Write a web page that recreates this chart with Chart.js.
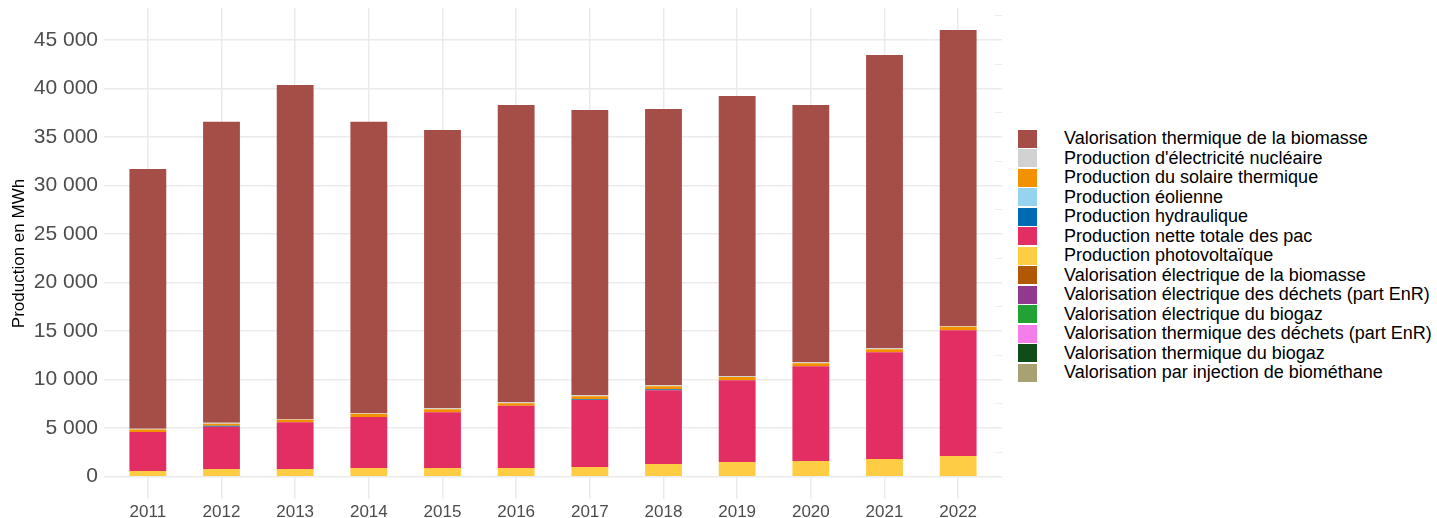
<!DOCTYPE html>
<html>
<head>
<meta charset="utf-8">
<script src="https://cdn.jsdelivr.net/npm/chart.js@4/dist/chart.umd.min.js"></script>
<style>
  body { margin: 0; background: #fff; font-family: "Liberation Sans", Arial, sans-serif; }
  #wrap { position: absolute; left: 0; top: 0; width: 1005px; height: 518px; }
  #legend { position: absolute; left: 1018px; top: 129px; }
  .item { display: flex; align-items: center; height: 19.5px; font-size: 18px; color: #000; white-space: nowrap; }
  .box { width: 19px; height: 18px; margin-right: 27px; flex: none; }
</style>
</head>
<body>
<div id="wrap"><canvas id="chart"></canvas></div>
<div id="legend"></div>
<script>
const years = ["2011", "2012", "2013", "2014", "2015", "2016", "2017", "2018", "2019", "2020", "2021", "2022"];

// valeurs en MWh
const photovoltaique = [580, 780, 780, 890, 890, 890, 990, 1300, 1510, 1610, 1810, 2120];
const pac = [4020, 4360, 4840, 5250, 5760, 6410, 6900, 7620, 8440, 9780, 11020, 12980];
const hydraulique = [0, 100, 0, 0, 0, 0, 100, 100, 0, 0, 0, 0];
const eolienne = [0, 0, 0, 0, 0, 0, 0, 0, 0, 0, 0, 0];
const solaireThermique = [270, 210, 240, 340, 310, 280, 310, 310, 310, 310, 310, 340];
const nucleaire = [60, 100, 70, 70, 110, 110, 100, 100, 110, 100, 110, 100];
const biomasseThermique = [26780, 31040, 34440, 30040, 28660, 30620, 29390, 28470, 28870, 26510, 30210, 30500];
const biomasseElec = [0, 0, 0, 0, 0, 0, 0, 0, 0, 0, 0, 0];
const dechetsElec = [0, 0, 0, 0, 0, 0, 0, 0, 0, 0, 0, 0];
const biogazElec = [0, 0, 0, 0, 0, 0, 0, 0, 0, 0, 0, 0];
const dechetsThermique = [0, 0, 0, 0, 0, 0, 0, 0, 0, 0, 0, 0];
const biogazThermique = [0, 0, 0, 0, 0, 0, 0, 0, 0, 0, 0, 0];
const biomethane = [0, 0, 0, 0, 0, 0, 0, 0, 0, 0, 0, 0];

const yTickValues = [0, 2500, 5000, 7500, 10000, 12500, 15000, 17500, 20000, 22500, 25000, 27500, 30000, 32500, 35000, 37500, 40000, 42500, 45000, 47500];

// ordre de la légende (haut de la pile en premier)
const series = [
  { label: "Valorisation thermique de la biomasse", data: biomasseThermique, color: "#A54E47" },
  { label: "Production d'électricité nucléaire", data: nucleaire, color: "#D2D2D2" },
  { label: "Production du solaire thermique", data: solaireThermique, color: "#F39200" },
  { label: "Production éolienne", data: eolienne, color: "#95D3EF" },
  { label: "Production hydraulique", data: hydraulique, color: "#006AB3" },
  { label: "Production nette totale des pac", data: pac, color: "#E22E63" },
  { label: "Production photovoltaïque", data: photovoltaique, color: "#FFCD44" },
  { label: "Valorisation électrique de la biomasse", data: biomasseElec, color: "#B15806" },
  { label: "Valorisation électrique des déchets (part EnR)", data: dechetsElec, color: "#91398F" },
  { label: "Valorisation électrique du biogaz", data: biogazElec, color: "#22A135" },
  { label: "Valorisation thermique des déchets (part EnR)", data: dechetsThermique, color: "#F47FEB" },
  { label: "Valorisation thermique du biogaz", data: biogazThermique, color: "#0F4C19" },
  { label: "Valorisation par injection de biométhane", data: biomethane, color: "#A8A173" },
];

// Chart.js empile dans l'ordre des datasets : on inverse pour avoir la biomasse en haut
const datasets = series.slice().reverse().map(s => ({
  label: s.label,
  data: s.data,
  backgroundColor: s.color,
  borderWidth: 0,
  barPercentage: 0.5,
  categoryPercentage: 1,
}));

const gridColor = "#ebebeb";
const setTicks = scale => { scale.ticks = yTickValues.map(v => ({ value: v })); };
const fmt = v => String(v).replace(/\B(?=(\d{3})+(?!\d))/g, " ");

new Chart(document.getElementById("chart"), {
  type: "bar",
  data: { labels: years, datasets: datasets },
  options: {
    responsive: true,
    maintainAspectRatio: false,
    animation: false,
    layout: { padding: { top: 8, right: 3, left: 0, bottom: 0 } },
    plugins: { legend: { display: false }, tooltip: { enabled: false } },
    scales: {
      x: {
        stacked: true,
        border: { display: false },
        grid: { offset: false, color: gridColor, lineWidth: 1.5, drawTicks: false },
        ticks: { color: "#4d4d4d", font: { family: "Liberation Sans", size: 17 }, padding: 3 },
        afterFit: s => { s.height = 19; s.paddingLeft = 0; s.paddingRight = 0; },
      },
      y: {
        stacked: true,
        min: -2300,
        max: 48300,
        border: { display: false },
        afterBuildTicks: setTicks,
        grid: {
          color: gridColor,
          lineWidth: c => (c.tick && c.tick.value % 5000 === 0 ? 1.5 : 0.9),
          tickLength: 7,
        },
        ticks: {
          color: "#4d4d4d",
          font: { family: "Liberation Sans", size: 21 },
          padding: 6,
          callback: v => (v % 5000 === 0 ? fmt(v) : ""),
        },
        title: {
          display: true,
          text: "Production en MWh",
          color: "#000",
          font: { family: "Liberation Sans", size: 17 },
          padding: { top: 9, bottom: 0 },
        },
        afterFit: s => { s.width = 111; s.paddingTop = 0; s.paddingBottom = 0; },
      },
      // axe fantôme à droite : prolonge juste les lignes de grille
      y2: {
        position: "right",
        min: -2300,
        max: 48300,
        border: { display: false },
        afterBuildTicks: setTicks,
        grid: {
          drawOnChartArea: false,
          color: gridColor,
          lineWidth: c => (c.tick && c.tick.value % 5000 === 0 ? 1.5 : 0.9),
          tickLength: 7,
        },
        ticks: { display: false },
        afterFit: s => { s.width = 7; s.paddingTop = 0; s.paddingBottom = 0; },
      },
    },
  },
});

// légende HTML
const legend = document.getElementById("legend");
series.forEach(s => {
  const row = document.createElement("div");
  row.className = "item";
  const box = document.createElement("span");
  box.className = "box";
  box.style.background = s.color;
  const txt = document.createElement("span");
  txt.textContent = s.label;
  row.appendChild(box);
  row.appendChild(txt);
  legend.appendChild(row);
});
</script>
</body>
</html>
